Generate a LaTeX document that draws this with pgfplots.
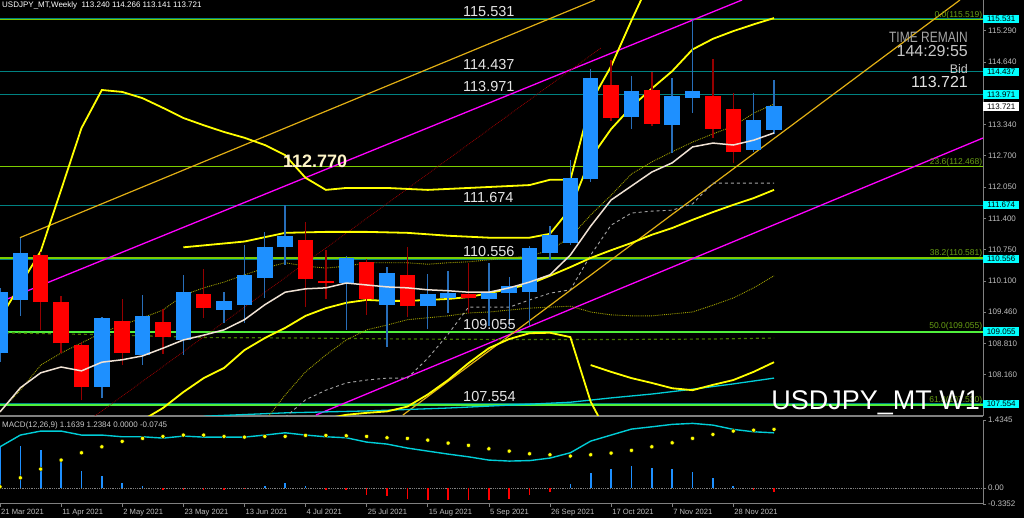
\documentclass[border=0pt]{standalone}
\usepackage{pgfplots}
\pgfplotsset{compat=1.18}
\usepackage{pgfplotstable}
\usepackage{fontspec}
\setmainfont{Liberation Sans}
\definecolor{bullb}{RGB}{30,144,255}
\definecolor{bullw}{RGB}{40,110,185}
\definecolor{bearb}{RGB}{255,0,0}
\definecolor{bearw}{RGB}{150,0,0}
\definecolor{tealline}{RGB}{0,130,130}
\definecolor{fibgreen}{RGB}{124,205,0}
\definecolor{fibbright}{RGB}{80,240,60}
\definecolor{fibtext}{RGB}{105,160,20}
\definecolor{beige}{RGB}{240,226,212}
\definecolor{oliveD}{RGB}{160,160,0}
\definecolor{dkgreen}{RGB}{70,120,0}
\definecolor{goldl}{RGB}{225,175,20}
\definecolor{magl}{RGB}{255,0,255}
\definecolor{cyanl}{RGB}{0,205,215}
\definecolor{lgray}{RGB}{200,200,200}
\definecolor{tickgray}{RGB}{190,190,190}
\definecolor{boxcyan}{RGB}{0,255,255}
\definecolor{ylw}{RGB}{255,255,0}
\definecolor{grayd}{RGB}{165,165,165}

\pgfplotstableread{
i o h l c
0 108.62 109.95 108.42 109.88
1 109.71 110.99 109.38 110.68
5 107.91 109.35 107.67 109.33
7 108.57 109.81 108.36 109.38
9 108.89 110.23 108.57 109.87
11 109.50 109.87 109.23 109.69
12 109.61 110.85 109.23 110.23
13 110.17 111.12 109.75 110.80
14 110.80 111.67 110.43 111.04
17 110.06 110.62 109.09 110.57
19 109.61 110.39 108.74 110.26
21 109.58 110.24 109.10 109.83
22 109.74 110.30 109.43 109.85
24 109.73 110.47 109.16 109.85
25 109.85 110.19 109.16 110.00
26 109.88 110.83 109.16 110.79
27 110.69 111.24 110.54 111.06
28 110.89 112.60 110.85 112.24
29 112.21 114.49 112.15 114.30
31 113.49 114.34 113.25 114.04
33 113.33 114.30 112.75 113.94
34 113.90 115.52 113.59 114.03
37 112.82 113.99 112.78 113.44
38 113.24 114.27 113.14 113.72
}\bull

\pgfplotstableread{
i o h l c
2 110.64 110.70 109.09 109.67
3 109.67 109.80 108.60 108.81
4 108.78 108.84 107.63 107.91
6 109.28 109.73 108.36 108.60
8 109.25 109.52 108.59 108.94
10 109.83 110.35 109.34 109.55
15 110.95 111.33 109.56 110.14
16 110.10 110.75 109.72 110.06
18 110.49 110.55 109.40 109.73
20 110.23 110.81 109.36 109.58
23 109.83 110.47 109.44 109.74
30 114.16 114.68 113.42 113.47
32 114.06 114.44 113.31 113.36
35 113.94 114.70 113.06 113.25
36 113.67 113.99 112.54 112.78
}\bear

\pgfplotstableread{
i v
0 107.39
1 107.89
2 108.20
3 108.32
4 108.24
5 108.42
6 108.47
7 108.55
8 108.71
9 108.88
10 108.98
11 109.09
12 109.30
13 109.61
14 109.87
15 109.94
16 109.96
17 110.06
18 110.02
19 109.98
20 109.96
21 109.92
22 109.90
23 109.87
24 109.87
25 109.96
26 110.08
27 110.23
28 110.64
29 111.24
30 111.78
31 112.07
32 112.36
33 112.55
34 112.88
35 112.96
36 112.92
37 113.02
38 113.17
}\beigeMA

\pgfplotstableread{
i v
0 107.39
1 107.84
2 108.36
3 108.61
4 108.82
5 109.03
6 109.19
7 109.34
8 109.50
9 109.81
10 109.96
11 110.08
12 110.23
13 110.37
14 110.48
15 110.41
16 110.37
17 110.41
18 110.48
19 110.48
20 110.48
21 110.45
22 110.48
23 110.50
24 110.54
25 110.58
26 110.62
27 110.74
28 111.01
29 111.47
30 111.88
31 112.32
32 112.57
33 112.78
34 112.98
35 113.15
36 113.31
37 113.58
38 113.77
}\dotUp

\pgfplotstableread{
i v
13 107.20
14 107.74
15 108.22
16 108.57
17 108.88
18 109.09
19 109.19
20 109.30
21 109.34
22 109.38
23 109.44
24 109.46
25 109.50
26 109.54
27 109.56
28 109.58
29 109.46
30 109.40
31 109.38
32 109.38
33 109.42
34 109.46
35 109.60
36 109.75
37 109.96
38 110.21
}\dotLo

\pgfplotstableread{
i v
0 109.03
5 108.99
10 108.93
15 108.92
20 108.90
25 108.89
30 108.89
35 108.90
38 108.92
}\dashG

\pgfplotstableread{
i v
14 107.28
15 107.64
16 107.84
17 107.99
18 108.05
19 108.09
20 108.09
21 108.50
22 109.00
23 109.56
24 109.56
25 109.56
26 109.71
27 109.85
28 109.92
29 110.64
30 111.26
31 111.51
32 111.55
33 111.57
34 111.70
35 112.13
36 112.13
37 112.13
38 112.13
}\grayD

\pgfplotstableread{
i v
0 109.33
1 110.02
2 110.72
3 111.99
4 113.27
5 114.06
6 114.02
7 113.89
8 113.69
9 113.48
10 113.33
11 113.19
12 113.07
13 112.92
14 112.71
15 112.24
16 111.99
17 112.03
18 112.03
19 112.03
20 112.01
21 111.99
22 112.01
23 112.03
24 112.05
25 112.07
26 112.09
27 112.20
28 112.20
29 113.80
30 114.55
31 115.50
32 116.40
}\yUp

\pgfplotstableread{
i v
9 110.80
12 110.92
14 111.10
16 111.12
18 111.12
20 111.10
22 111.04
24 111.00
26 111.00
27 111.08
28 111.60
29 112.65
30 113.25
31 113.71
32 114.09
33 114.45
34 114.90
35 115.12
36 115.28
37 115.42
38 115.55
}\yMid

\pgfplotstableread{
i v
7 107.22
8 107.47
9 107.80
10 108.09
11 108.30
12 108.67
13 108.92
14 109.13
15 109.38
16 109.54
17 109.65
18 109.71
19 109.69
20 109.69
21 109.71
22 109.73
23 109.77
24 109.85
25 109.94
26 110.04
27 110.21
28 110.39
29 110.58
30 110.74
31 110.89
32 111.06
33 111.20
34 111.37
35 111.53
36 111.68
37 111.82
38 111.99
}\yLowMid

\pgfplotstableread{
i v
16 107.25
17 107.33
18 107.37
19 107.40
20 107.50
21 107.75
22 108.05
23 108.40
24 108.71
25 108.90
26 109.02
27 109.03
28 108.94
29 107.60
30 106.80
}\yLoA

\pgfplotstableread{
i v
29 108.36
30 108.22
31 108.09
32 107.99
33 107.88
34 107.84
35 107.95
36 108.05
37 108.22
38 108.42
}\yLoB

\pgfplotstableread{
i v
10 107.30
14 107.37
18 107.41
22 107.47
26 107.55
28 107.59
30 107.68
32 107.76
34 107.86
36 107.97
38 108.09
}\cyanMA

\pgfplotstableread{
i cy dot h
0 0.870 0.027 0.870
1 1.117 0.217 0.885
2 1.201 0.400 0.800
3 1.201 0.590 0.590
4 1.117 0.744 0.364
5 1.117 0.870 0.253
6 1.081 0.984 0.099
7 1.081 1.047 0.042
8 1.053 1.089 -0.040
9 1.095 1.117 -0.040
10 1.074 1.117 -0.040
11 1.074 1.089 -0.040
12 1.074 1.074 -0.010
13 1.117 1.089 0.042
14 1.165 1.089 0.099
15 1.117 1.110 0.042
16 1.081 1.110 -0.030
17 1.060 1.102 -0.040
18 0.969 1.089 -0.147
19 0.927 1.060 -0.169
20 0.843 1.047 -0.238
21 0.779 1.011 -0.253
22 0.716 0.948 -0.253
23 0.659 0.900 -0.253
24 0.590 0.828 -0.253
25 0.569 0.779 -0.238
26 0.579 0.723 -0.147
27 0.632 0.702 -0.078
28 0.744 0.674 0.084
29 0.990 0.702 0.310
30 1.117 0.737 0.394
31 1.243 0.794 0.463
32 1.291 0.870 0.415
33 1.342 0.954 0.394
34 1.363 1.047 0.337
35 1.327 1.131 0.204
36 1.237 1.201 0.042
37 1.186 1.220 -0.040
38 1.164 1.238 -0.0745
}\macd

\begin{document}
\begin{tikzpicture}[x=1pt,y=1pt]
\useasboundingbox (0,0) rectangle (1024,518);
\fill[black] (0,0) rectangle (1024,518);

% ---------------- main price panel ----------------
\begin{axis}[at={(0pt,102pt)}, anchor=south west,
  width=983pt, height=416pt, scale only axis,
  xmin=0, xmax=48.26, ymin=107.305, ymax=115.925,
  clip mode=individual,
  axis x line*=bottom, axis y line*=right,
  x axis line style={draw=gray, line width=2pt},
  y axis line style={draw=gray, line width=1pt},
  xtick=\empty,
  ytick={115.290,114.640,113.340,112.700,112.050,111.400,110.750,110.100,109.460,108.810,108.160},
  yticklabels={115.290,114.640,113.340,112.700,112.050,111.400,110.750,110.100,109.460,108.810,108.160},
  tick align=outside, major tick length=3pt,
  tick style={draw=gray, line width=0.6pt},
  yticklabel style={font=\fontsize{8}{9}\selectfont, text=tickgray, inner sep=2pt},
]
% horizontal levels
\addplot[tealline, line width=1pt] coordinates {(0,115.531) (48.26,115.531)};
\addplot[fibgreen, line width=1pt] coordinates {(0,115.519) (48.26,115.519)};
\addplot[tealline, line width=1pt] coordinates {(0,114.437) (48.26,114.437)};
\addplot[tealline, line width=1pt] coordinates {(0,113.971) (48.26,113.971)};
\addplot[fibgreen, line width=1.3pt] coordinates {(0,112.468) (48.26,112.468)};
\addplot[tealline, line width=1pt] coordinates {(0,111.674) (48.26,111.674)};
\addplot[tealline, line width=1.2pt] coordinates {(0,110.556) (48.26,110.556)};
\addplot[fibgreen, line width=1.3pt] coordinates {(0,110.581) (48.26,110.581)};
\addplot[tealline, line width=1pt] coordinates {(0,109.055) (48.26,109.055)};
\addplot[fibbright, line width=2pt] coordinates {(0,109.055) (48.26,109.055)};
\addplot[tealline, line width=1pt] coordinates {(0,107.554) (48.26,107.554)};
\addplot[fibbright, line width=2pt] coordinates {(0,107.530) (48.26,107.530)};

% trend lines
\addplot[magl, line width=1.3pt] coordinates {(0,109.667) (36.43,115.925)};
\addplot[magl, line width=1.3pt] coordinates {(15.51,107.325) (48.26,113.065)};
\addplot[goldl, line width=1.2pt] coordinates {(0.98,111.00) (29.21,115.925)};
\addplot[goldl, line width=1.2pt] coordinates {(19.78,107.325) (47.13,115.925)};
\addplot[bearw, line width=0.8pt, densely dotted] coordinates {(4.66,107.305) (29.5,114.93)};

% indicator curves
\addplot[dkgreen, line width=1.2pt, dashed] table[x=i,y=v] {\dashG};
\addplot[cyanl, line width=1.3pt] table[x=i,y=v] {\cyanMA};
\addplot[oliveD, line width=0.9pt, densely dotted] table[x=i,y=v] {\dotUp};
\addplot[oliveD, line width=0.9pt, densely dotted] table[x=i,y=v] {\dotLo};
\addplot[grayd, line width=0.9pt, dashed] table[x=i,y=v] {\grayD};
\addplot[ylw, line width=1.8pt] table[x=i,y=v] {\yUp};
\addplot[ylw, line width=1.8pt] table[x=i,y=v] {\yMid};
\addplot[ylw, line width=1.8pt] table[x=i,y=v] {\yLowMid};
\addplot[ylw, line width=1.8pt] table[x=i,y=v] {\yLoA};
\addplot[ylw, line width=1.8pt] table[x=i,y=v] {\yLoB};

% candles: wicks
\addplot[draw=none, error bars/.cd, y dir=plus, y explicit, error mark=none,
  error bar style={draw=bullw, line width=1.4pt}]
  table[x=i, y=l, y error plus expr=\thisrow{h}-\thisrow{l}] {\bull};
\addplot[draw=none, error bars/.cd, y dir=plus, y explicit, error mark=none,
  error bar style={draw=bearw, line width=1.4pt}]
  table[x=i, y=l, y error plus expr=\thisrow{h}-\thisrow{l}] {\bear};
% candles: bodies
\addplot[draw=none, error bars/.cd, y dir=plus, y explicit, error mark=none,
  error bar style={draw=bullb, line width=15.5pt}]
  table[x=i, y=o, y error plus expr=\thisrow{c}-\thisrow{o}] {\bull};
\addplot[draw=none, error bars/.cd, y dir=plus, y explicit, error mark=none,
  error bar style={draw=bearb, line width=15.5pt}]
  table[x=i, y=c, y error plus expr=\thisrow{o}-\thisrow{c}] {\bear};

\addplot[beige, line width=1.5pt] table[x=i,y=v] {\beigeMA};

% level labels
\begin{scope}[every node/.style={anchor=south west, inner sep=0pt, yshift=2pt,
   font=\fontsize{14.5}{15}\selectfont, text=white!90!black}]
\node at (axis cs:22.73,115.531) {115.531};
\node at (axis cs:22.73,114.437) {114.437};
\node at (axis cs:22.73,113.971) {113.971};
\node at (axis cs:22.73,111.674) {111.674};
\node at (axis cs:22.73,110.556) {110.556};
\node at (axis cs:22.73,109.055) {109.055};
\node at (axis cs:22.73,107.554) {107.554};
\end{scope}
\node[anchor=north west, inner sep=0pt, yshift=-2pt, font=\bfseries\fontsize{18}{19}\selectfont, text={rgb,255:red,255;green,245;blue,200}] at (axis cs:13.89,112.770) {112.770};

% fib labels
\begin{scope}[every node/.style={anchor=south east, inner sep=0.6pt,
   font=\fontsize{8.5}{9}\selectfont, text=fibtext}]
\node at (axis cs:48.26,115.519) {0.0(115.519)};
\node at (axis cs:48.26,112.468) {23.6(112.468)};
\node at (axis cs:48.26,110.581) {38.2(110.581)};
\node at (axis cs:48.26,109.055) {50.0(109.055)};
\node at (axis cs:48.26,107.530) {61.8(107.530)};
\end{scope}

% boxed price labels
\begin{scope}[every node/.style={anchor=west, inner xsep=1pt, inner ysep=0pt,
   minimum height=8.5pt, minimum width=36pt, text depth=0pt,
   font=\fontsize{8}{8}\selectfont, text=black, fill=boxcyan}]
\node at (axis cs:48.26,115.531) {115.531};
\node at (axis cs:48.26,114.437) {114.437};
\node at (axis cs:48.26,113.971) {113.971};
\node at (axis cs:48.26,111.674) {111.674};
\node at (axis cs:48.26,110.556) {110.556};
\node at (axis cs:48.26,109.055) {109.055};
\node at (axis cs:48.26,107.554) {107.554};
\node[fill=white] at (axis cs:48.26,113.721) {113.721};
\end{scope}
\end{axis}

% ---------------- MACD panel ----------------
\begin{axis}[at={(0pt,14pt)}, anchor=south west,
  width=983pt, height=84pt, scale only axis,
  xmin=0, xmax=48.26, ymin=-0.3352, ymax=1.4345,
  clip mode=individual,
  axis x line*=bottom, axis y line*=right,
  axis line style={draw=gray, line width=1pt},
  xtick={0,3,6,9,12,15,18,21,24,27,30,33,36},
  xticklabels={21 Mar 2021,11 Apr 2021,2 May 2021,23 May 2021,13 Jun 2021,4 Jul 2021,25 Jul 2021,15 Aug 2021,5 Sep 2021,26 Sep 2021,17 Oct 2021,7 Nov 2021,28 Nov 2021},
  xticklabel style={anchor=north west, inner sep=1pt, yshift=-0.5pt, font=\fontsize{7.6}{8}\selectfont, text=tickgray},
  ytick={1.4345,0,-0.3352},
  yticklabels={1.4345,0.00,-0.3352},
  yticklabel style={font=\fontsize{8}{9}\selectfont, text=tickgray, inner sep=2pt},
  tick align=outside, major tick length=3pt,
  tick style={draw=gray, line width=0.6pt},
]
\addplot[gray, densely dotted, line width=0.8pt] coordinates {(0,0) (48.26,0)};
\addplot[ycomb, draw=bullb, line width=1.6pt] table[x=i, y=h, restrict expr to domain={\thisrow{h}}{0:5}] {\macd};
\addplot[ycomb, draw=bearb, line width=1.6pt] table[x=i, y=h, restrict expr to domain={\thisrow{h}}{-5:0}] {\macd};
\addplot[cyanl, line width=1.4pt] table[x=i, y=cy] {\macd};
\addplot[only marks, mark=*, mark size=2.1pt, mark options={fill=ylw, draw=none}] table[x=i, y=dot] {\macd};
\end{axis}

% ---------------- texts ----------------
\node[anchor=west, inner sep=0pt, font=\fontsize{8}{9}\selectfont, text=white] at (2,512.5)
  {USDJPY\_MT,Weekly\ \ 113.240 114.266 113.141 113.721};
\node[anchor=west, inner sep=0pt, font=\fontsize{8}{9}\selectfont, text=lgray] at (2,93)
  {MACD(12,26,9) 1.1639 1.2384 0.0000 -0.0745};
\node[anchor=east, inner sep=0pt, text={rgb,255:red,165;green,165;blue,165}] at (968,480.5)
  {\scalebox{0.8}[1]{\fontsize{15}{15}\selectfont TIME REMAIN}};
\node[anchor=east, inner sep=0pt, font=\fontsize{16}{16}\selectfont, text={rgb,255:red,200;green,200;blue,200}] at (968,467) {144:29:55};
\node[anchor=east, inner sep=0pt, font=\fontsize{12.5}{13}\selectfont, text={rgb,255:red,200;green,200;blue,200}] at (968,448.5) {Bid};
\node[anchor=east, inner sep=0pt, font=\fontsize{16}{16}\selectfont, text={rgb,255:red,225;green,225;blue,225}] at (968,435.5) {113.721};
\node[anchor=base east, inner sep=0pt, font=\fontsize{27}{27}\selectfont, text=white] at (980,108) {USDJPY\_MT W1};
\end{tikzpicture}
\end{document}
